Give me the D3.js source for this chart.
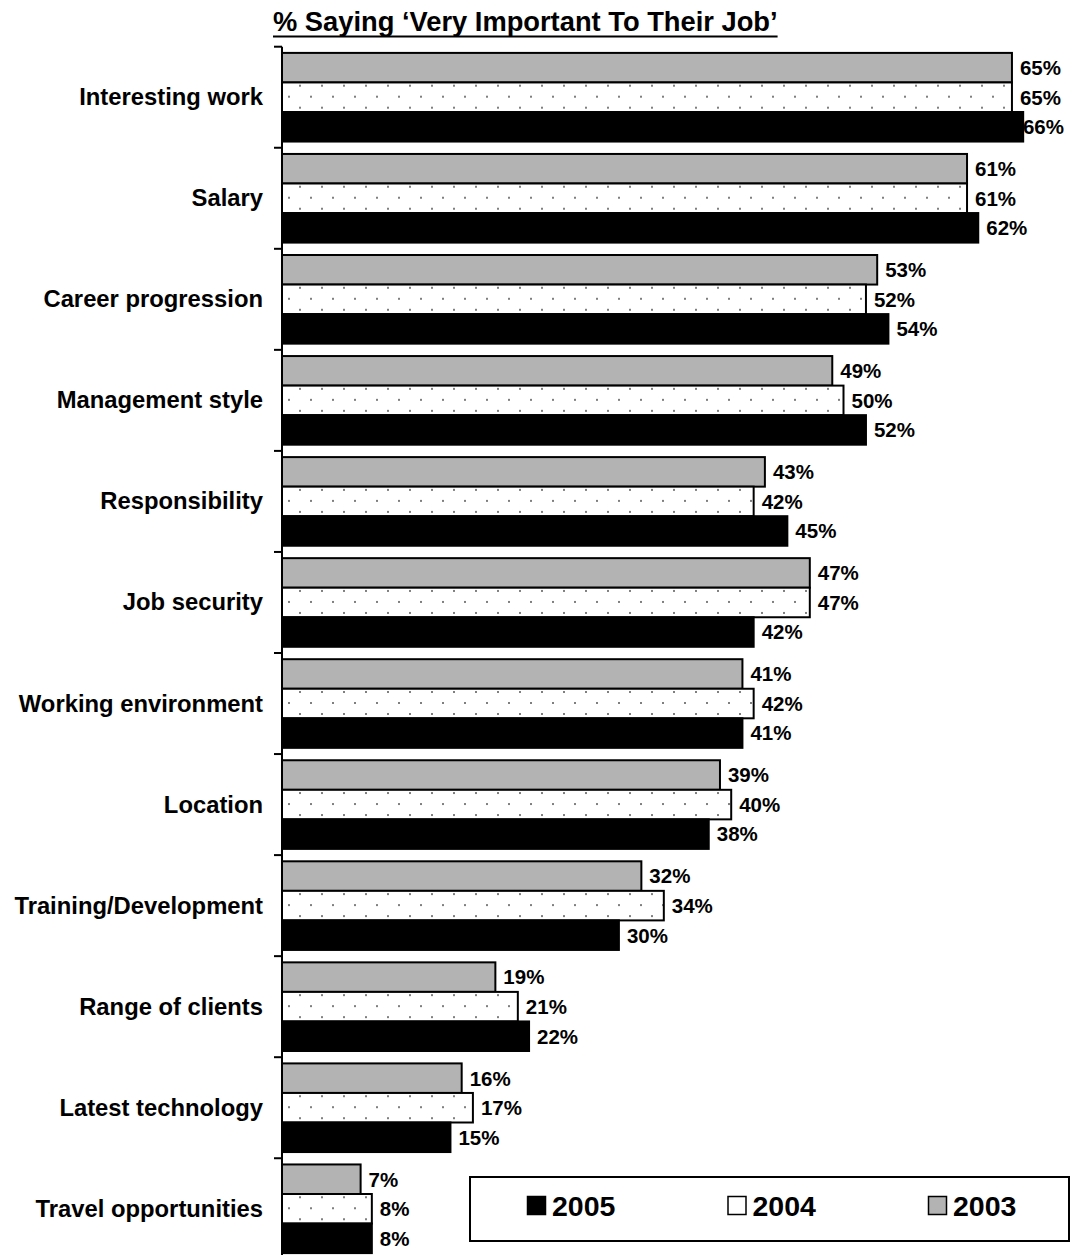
<!DOCTYPE html>
<html>
<head>
<meta charset="utf-8">
<script src="https://cdn.jsdelivr.net/npm/d3@7"></script>
<style>
  html, body { margin: 0; padding: 0; background: #fff; }
  svg { display: block; font-family: Arial, "Liberation Sans", Helvetica, sans-serif; font-weight: bold; }
</style>
</head>
<body>
<svg id="chart" width="1071" height="1255"></svg>
<script>
// Job factors, ranked top to bottom
const categories = [
  "Interesting work", "Salary", "Career progression", "Management style",
  "Responsibility", "Job security", "Working environment", "Location",
  "Training/Development", "Range of clients", "Latest technology", "Travel opportunities"
];
// Series drawn top to bottom inside each group
const seriesNames = ["2003", "2004", "2005"];
const values2003 = [65, 61, 53, 49, 43, 47, 41, 39, 32, 19, 16, 7];
const values2004 = [65, 61, 52, 50, 42, 47, 42, 40, 34, 21, 17, 8];
const values2005 = [66, 62, 54, 52, 45, 42, 41, 38, 30, 22, 15, 8];
// Legend order
const legendNames = ["2005", "2004", "2003"];
const titleText = "% Saying \u2018Very Important To Their Job\u2019";

const seriesValues = { "2003": values2003, "2004": values2004, "2005": values2005 };
const rows = categories.map((c, i) => ({
  category: c,
  bars: seriesNames.map(s => ({ series: s, value: seriesValues[s][i] }))
}));

const svg = d3.select("#chart");
const axisX = 282;
const topY = 46.7;
const bandH = 101.05;

// pattern for the 2004 bars: white with sparse grey dots
const defs = svg.append("defs");
const pat = defs.append("pattern")
  .attr("id", "dots").attr("patternUnits", "userSpaceOnUse")
  .attr("width", 22).attr("height", 22);
pat.append("rect").attr("width", 22).attr("height", 22).attr("fill", "#fff");
pat.append("rect").attr("x", 2).attr("y", 5).attr("width", 2).attr("height", 2).attr("fill", "#7f7f7f");
pat.append("rect").attr("x", 13).attr("y", 16).attr("width", 2).attr("height", 2).attr("fill", "#7f7f7f");

const fills = { "2003": "#b3b3b3", "2004": "url(#dots)", "2005": "#000" };

const x = d3.scaleLinear().domain([0, 100]).range([axisX, axisX + 1123]);
const y = d3.scaleBand().domain(categories).range([topY, topY + bandH * categories.length]).padding(0);
const ySub = d3.scaleBand().domain(seriesNames).range([0, y.bandwidth()]).paddingInner(0).paddingOuter(0.21);

// title, underlined
const title = svg.append("text").text(titleText)
  .attr("x", 273).attr("y", 31).attr("font-size", 27.3);
const tw = title.node().getComputedTextLength();
svg.append("line").attr("x1", 273).attr("x2", 273 + tw)
  .attr("y1", 36.5).attr("y2", 36.5).attr("stroke", "#000").attr("stroke-width", 2);

// bars
const groups = svg.selectAll("g.cat").data(rows).join("g")
  .attr("class", "cat")
  .attr("transform", d => `translate(0,${y(d.category)})`);

groups.selectAll("rect.bar").data(d => d.bars).join("rect")
  .attr("class", "bar")
  .attr("x", x(0))
  .attr("y", d => ySub(d.series))
  .attr("width", d => x(d.value) - x(0))
  .attr("height", ySub.bandwidth())
  .attr("fill", d => fills[d.series])
  .attr("stroke", "#000")
  .attr("stroke-width", 2);

// value labels, kept inside the right edge
const valSize = 20.5, rightLimit = 1064;
groups.selectAll("text.val").data(d => d.bars).join("text")
  .attr("class", "val")
  .attr("font-size", valSize)
  .text(d => d.value + "%")
  .attr("y", d => ySub(d.series) + ySub.bandwidth() / 2 + valSize * 0.36)
  .attr("x", function(d) {
    const w = this.getComputedTextLength();
    return Math.min(x(d.value) + 8, rightLimit - w);
  });

// category labels
groups.append("text").attr("class", "cat-label")
  .attr("x", 263).attr("y", y.bandwidth() / 2 + 8)
  .attr("text-anchor", "end").attr("font-size", 23.8)
  .text(d => d.category);

// category axis with ticks at group boundaries
svg.append("line").attr("x1", axisX).attr("x2", axisX)
  .attr("y1", topY).attr("y2", topY + bandH * categories.length)
  .attr("stroke", "#000").attr("stroke-width", 2);
svg.selectAll("line.tick").data(categories).join("line")
  .attr("class", "tick")
  .attr("x1", axisX - 8).attr("x2", axisX)
  .attr("y1", d => y(d)).attr("y2", d => y(d))
  .attr("stroke", "#000").attr("stroke-width", 2);

// legend
const lg = svg.append("g");
lg.append("rect").attr("x", 470).attr("y", 1177).attr("width", 599).attr("height", 64)
  .attr("fill", "#fff").attr("stroke", "#000").attr("stroke-width", 2);
const legendFill = { "2005": "#000", "2004": "#fff", "2003": "#b3b3b3" };
const li = lg.selectAll("g.item").data(legendNames).join("g")
  .attr("class", "item")
  .attr("transform", (d, i) => `translate(${527 + i * 200.5},1196)`);
li.append("rect").attr("x", 0.5).attr("y", 0.5).attr("width", 18).attr("height", 18)
  .attr("fill", d => legendFill[d]).attr("stroke", "#000").attr("stroke-width", 1.5);
li.append("text").text(d => d)
  .attr("x", 25).attr("y", 20).attr("font-size", 28.5);
</script>
</body>
</html>
